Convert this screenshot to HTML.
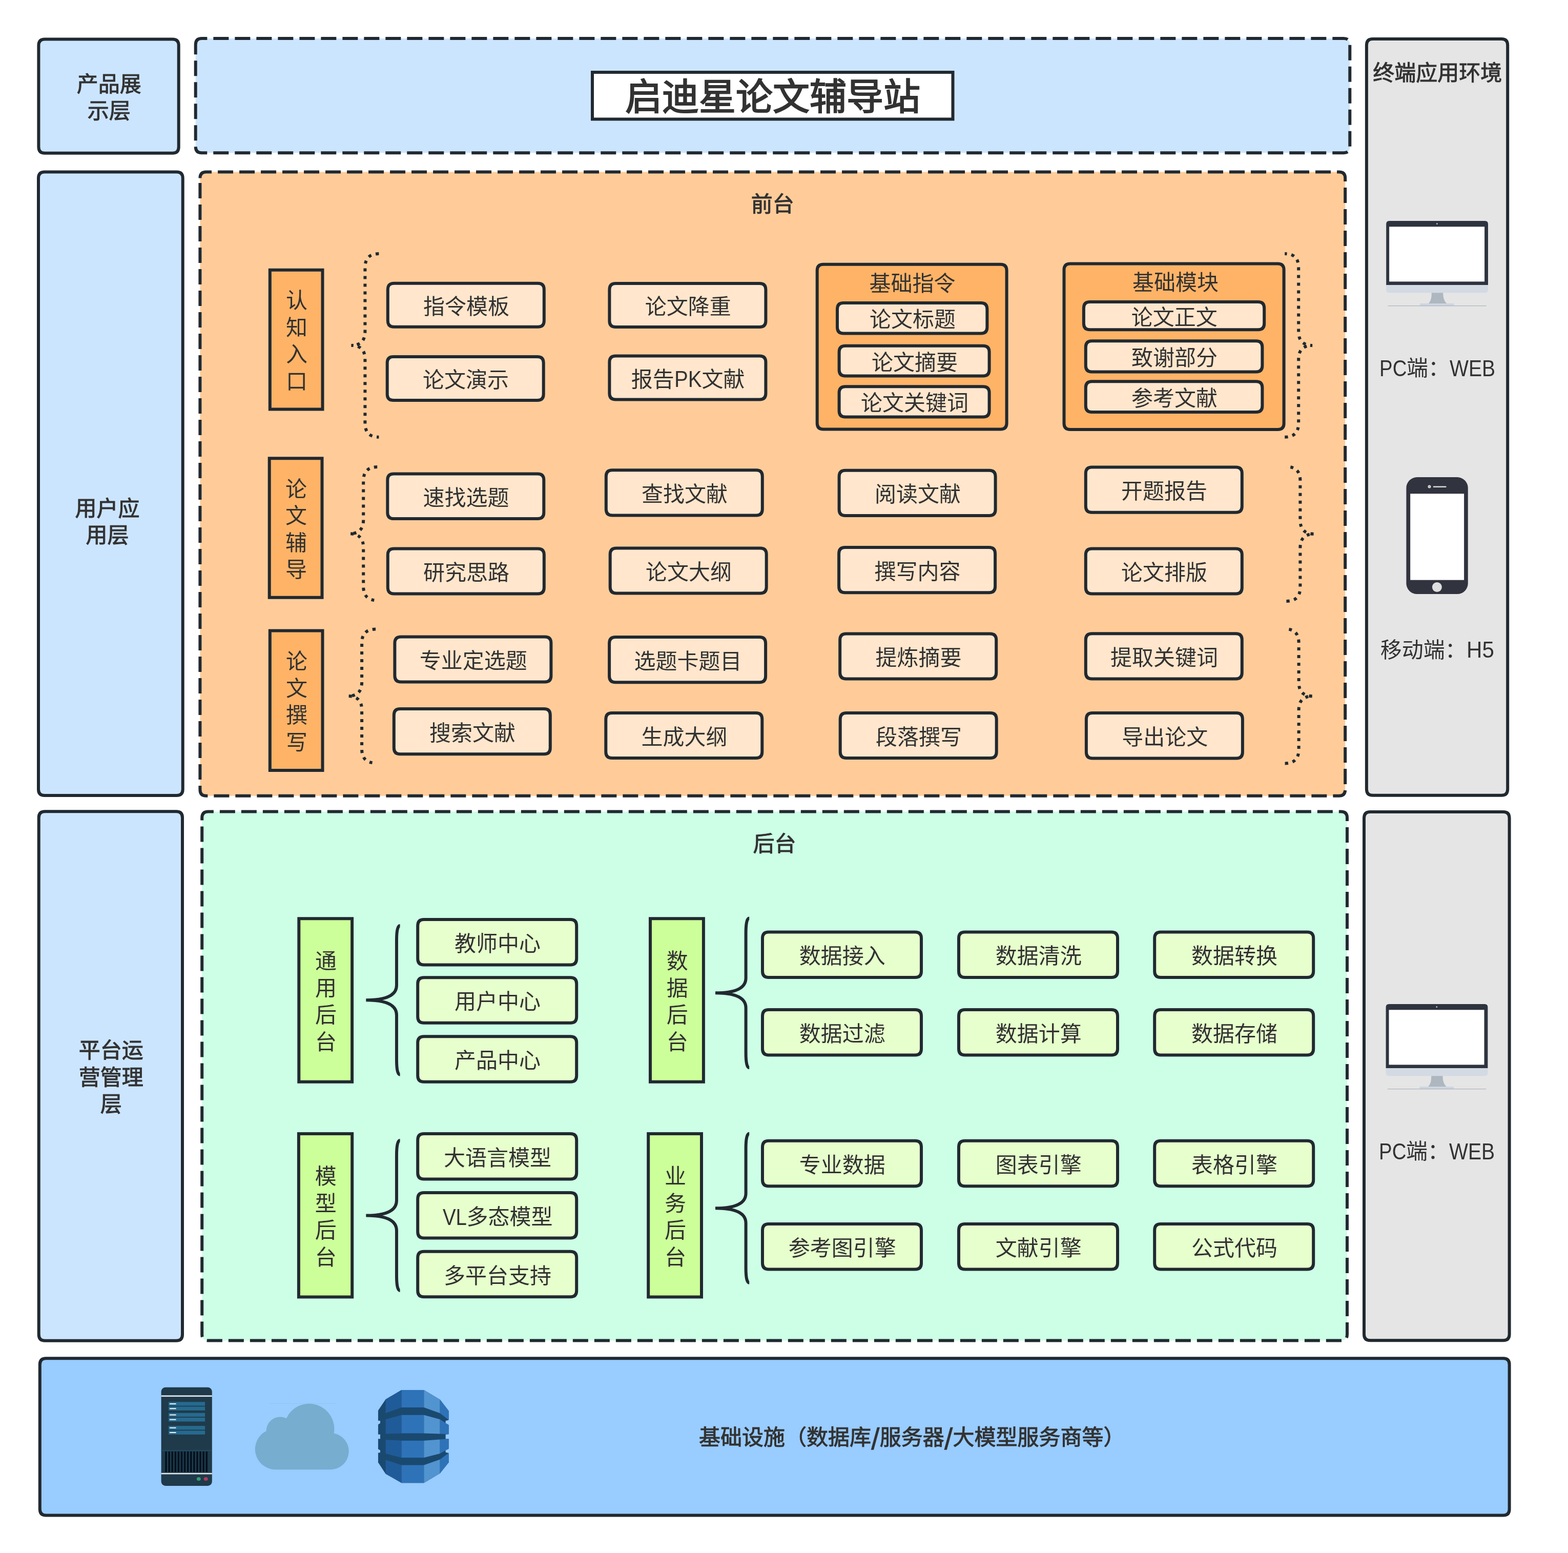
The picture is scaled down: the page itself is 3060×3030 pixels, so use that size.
<!DOCTYPE html>
<html lang="zh-CN">
<head>
<meta charset="utf-8">
<title>启迪星论文辅导站</title>
<style>
html,body{margin:0;padding:0;background:#fff}
body{width:3060px;height:3030px;position:relative;overflow:hidden}
svg{position:absolute;left:0;top:0}
.t{position:absolute;display:flex;align-items:center;justify-content:center;text-align:center;white-space:nowrap;
font-family:"Liberation Sans","Noto Sans CJK SC",sans-serif;font-size:42px;line-height:52.5px;color:#323232;font-weight:400}
#labels{position:absolute;left:0;top:0;width:3060px;height:3030px;will-change:transform}
.l{display:inline-block;transform-origin:0 50%;line-height:1}
.sl{font-size:60px;line-height:0;position:relative;top:3px;-webkit-text-stroke:0.5px #323232}
.b{-webkit-text-stroke:1px #323232}
.title{-webkit-text-stroke:2.1px #323232;font-size:72px;line-height:90px}
</style>
</head>
<body>
<svg xmlns="http://www.w3.org/2000/svg" width="3060" height="3030" viewBox="0 0 3060 3030">
<g stroke="#212930" stroke-width="6" fill="none">
<path d="M75.40,88.60Q75.40,76.60 87.40,76.60L336.70,76.60Q348.70,76.60 348.70,88.60L348.70,286.70Q348.70,298.70 336.70,298.70L87.40,298.70Q75.40,298.70 75.40,286.70Z" fill="#cce5ff"/>
<path d="M75.00,347.50Q75.00,335.50 87.00,335.50L344.70,335.50Q356.70,335.50 356.70,347.50L356.70,1540.10Q356.70,1552.10 344.70,1552.10L87.00,1552.10Q75.00,1552.10 75.00,1540.10Z" fill="#cce5ff"/>
<path d="M75.70,1595.20Q75.70,1583.20 87.70,1583.20L344.00,1583.20Q356.00,1583.20 356.00,1595.20L356.00,2603.70Q356.00,2615.70 344.00,2615.70L87.70,2615.70Q75.70,2615.70 75.70,2603.70Z" fill="#cce5ff"/>
<path d="M381.70,87.00Q381.70,75.00 393.70,75.00L2622.30,75.00Q2634.30,75.00 2634.30,87.00L2634.30,286.30Q2634.30,298.30 2622.30,298.30L393.70,298.30Q381.70,298.30 381.70,286.30Z" fill="#cce5ff" stroke-dasharray="30 12"/>
<path d="M390.40,347.40Q390.40,335.40 402.40,335.40L2613.20,335.40Q2625.20,335.40 2625.20,347.40L2625.20,1540.70Q2625.20,1552.70 2613.20,1552.70L402.40,1552.70Q390.40,1552.70 390.40,1540.70Z" fill="#ffcc99" stroke-dasharray="30 12"/>
<path d="M394.20,1595.50Q394.20,1583.50 406.20,1583.50L2617.00,1583.50Q2629.00,1583.50 2629.00,1595.50L2629.00,2603.50Q2629.00,2615.50 2617.00,2615.50L406.20,2615.50Q394.20,2615.50 394.20,2603.50Z" fill="#ccffe6" stroke-dasharray="30 12"/>
<path d="M2666.90,88.00Q2666.90,76.00 2678.90,76.00L2930.20,76.00Q2942.20,76.00 2942.20,88.00L2942.20,1539.70Q2942.20,1551.70 2930.20,1551.70L2678.90,1551.70Q2666.90,1551.70 2666.90,1539.70Z" fill="#e5e5e5"/>
<path d="M2662.00,1596.00Q2662.00,1584.00 2674.00,1584.00L2933.60,1584.00Q2945.60,1584.00 2945.60,1596.00L2945.60,2603.30Q2945.60,2615.30 2933.60,2615.30L2674.00,2615.30Q2662.00,2615.30 2662.00,2603.30Z" fill="#e5e5e5"/>
<path d="M77.80,2662.20Q77.80,2650.20 89.80,2650.20L2933.60,2650.20Q2945.60,2650.20 2945.60,2662.20L2945.60,2944.40Q2945.60,2956.40 2933.60,2956.40L89.80,2956.40Q77.80,2956.40 77.80,2944.40Z" fill="#99ccff"/>
<path d="M1156.00,141.00H1859.50V232.60H1156.00Z" fill="#ffffff"/>
<path d="M526.80,526.80H629.50V798.40H526.80Z" fill="#ffb366"/>
<path d="M525.70,894.30H628.50V1165.80H525.70Z" fill="#ffb366"/>
<path d="M526.80,1230.40H629.50V1503.00H526.80Z" fill="#ffb366"/>
<path d="M739.40,495.00Q712.40,495.00 712.40,522.00L712.40,646.90Q712.40,673.90 685.40,673.90Q712.40,673.90 712.40,700.90L712.40,825.80Q712.40,852.80 739.40,852.80" fill="none" stroke-dasharray="6 9" stroke-linejoin="bevel"/>
<path d="M736.20,911.10Q709.20,911.10 709.20,938.10L709.20,1014.30Q709.20,1041.30 682.20,1041.30Q709.20,1041.30 709.20,1068.30L709.20,1144.50Q709.20,1171.50 736.20,1171.50" fill="none" stroke-dasharray="6 9" stroke-linejoin="bevel"/>
<path d="M733.10,1227.60Q706.10,1227.60 706.10,1254.60L706.10,1331.10Q706.10,1358.10 679.10,1358.10Q706.10,1358.10 706.10,1385.10L706.10,1461.60Q706.10,1488.60 733.10,1488.60" fill="none" stroke-dasharray="6 9" stroke-linejoin="bevel"/>
<path d="M2507.20,852.80Q2534.20,852.80 2534.20,825.80L2534.20,700.90Q2534.20,673.90 2561.20,673.90Q2534.20,673.90 2534.20,646.90L2534.20,522.00Q2534.20,495.00 2507.20,495.00" fill="none" stroke-dasharray="6 9" stroke-linejoin="bevel"/>
<path d="M2510.40,1173.00Q2537.40,1173.00 2537.40,1146.00L2537.40,1068.80Q2537.40,1041.80 2564.40,1041.80Q2537.40,1041.80 2537.40,1014.80L2537.40,937.60Q2537.40,910.60 2510.40,910.60" fill="none" stroke-dasharray="6 9" stroke-linejoin="bevel"/>
<path d="M2507.60,1489.40Q2534.60,1489.40 2534.60,1462.40L2534.60,1385.25Q2534.60,1358.25 2561.60,1358.25Q2534.60,1358.25 2534.60,1331.25L2534.60,1254.10Q2534.60,1227.10 2507.60,1227.10" fill="none" stroke-dasharray="6 9" stroke-linejoin="bevel"/>
<path d="M756.80,564.70Q756.80,552.70 768.80,552.70L1049.80,552.70Q1061.80,552.70 1061.80,564.70L1061.80,625.70Q1061.80,637.70 1049.80,637.70L768.80,637.70Q756.80,637.70 756.80,625.70Z" fill="#ffe6cc"/>
<path d="M1189.40,564.90Q1189.40,552.90 1201.40,552.90L1482.40,552.90Q1494.40,552.90 1494.40,564.90L1494.40,625.90Q1494.40,637.90 1482.40,637.90L1201.40,637.90Q1189.40,637.90 1189.40,625.90Z" fill="#ffe6cc"/>
<path d="M755.70,707.90Q755.70,695.90 767.70,695.90L1048.70,695.90Q1060.70,695.90 1060.70,707.90L1060.70,768.90Q1060.70,780.90 1048.70,780.90L767.70,780.90Q755.70,780.90 755.70,768.90Z" fill="#ffe6cc"/>
<path d="M1189.40,706.60Q1189.40,694.60 1201.40,694.60L1482.40,694.60Q1494.40,694.60 1494.40,706.60L1494.40,767.60Q1494.40,779.60 1482.40,779.60L1201.40,779.60Q1189.40,779.60 1189.40,767.60Z" fill="#ffe6cc"/>
<path d="M1594.70,527.80Q1594.70,515.80 1606.70,515.80L1952.60,515.80Q1964.60,515.80 1964.60,527.80L1964.60,825.60Q1964.60,837.60 1952.60,837.60L1606.70,837.60Q1594.70,837.60 1594.70,825.60Z" fill="#ffb366"/>
<path d="M1634.00,603.00Q1634.00,591.00 1646.00,591.00L1914.40,591.00Q1926.40,591.00 1926.40,603.00L1926.40,638.40Q1926.40,650.40 1914.40,650.40L1646.00,650.40Q1634.00,650.40 1634.00,638.40Z" fill="#ffe6cc"/>
<path d="M1637.60,686.70Q1637.60,674.70 1649.60,674.70L1918.60,674.70Q1930.60,674.70 1930.60,686.70L1930.60,721.50Q1930.60,733.50 1918.60,733.50L1649.60,733.50Q1637.60,733.50 1637.60,721.50Z" fill="#ffe6cc"/>
<path d="M1637.60,766.20Q1637.60,754.20 1649.60,754.20L1918.60,754.20Q1930.60,754.20 1930.60,766.20L1930.60,801.50Q1930.60,813.50 1918.60,813.50L1649.60,813.50Q1637.60,813.50 1637.60,801.50Z" fill="#ffe6cc"/>
<path d="M2076.50,526.40Q2076.50,514.40 2088.50,514.40L2493.60,514.40Q2505.60,514.40 2505.60,526.40L2505.60,826.10Q2505.60,838.10 2493.60,838.10L2088.50,838.10Q2076.50,838.10 2076.50,826.10Z" fill="#ffb366"/>
<path d="M2114.90,601.00Q2114.90,589.00 2126.90,589.00L2455.20,589.00Q2467.20,589.00 2467.20,601.00L2467.20,631.30Q2467.20,643.30 2455.20,643.30L2126.90,643.30Q2114.90,643.30 2114.90,631.30Z" fill="#ffe6cc"/>
<path d="M2118.80,677.20Q2118.80,665.20 2130.80,665.20L2451.40,665.20Q2463.40,665.20 2463.40,677.20L2463.40,713.60Q2463.40,725.60 2451.40,725.60L2130.80,725.60Q2118.80,725.60 2118.80,713.60Z" fill="#ffe6cc"/>
<path d="M2118.80,756.20Q2118.80,744.20 2130.80,744.20L2451.40,744.20Q2463.40,744.20 2463.40,756.20L2463.40,792.10Q2463.40,804.10 2451.40,804.10L2130.80,804.10Q2118.80,804.10 2118.80,792.10Z" fill="#ffe6cc"/>
<path d="M756.30,936.40Q756.30,924.40 768.30,924.40L1049.30,924.40Q1061.30,924.40 1061.30,936.40L1061.30,1000.10Q1061.30,1012.10 1049.30,1012.10L768.30,1012.10Q756.30,1012.10 756.30,1000.10Z" fill="#ffe6cc"/>
<path d="M1182.80,929.30Q1182.80,917.30 1194.80,917.30L1475.80,917.30Q1487.80,917.30 1487.80,929.30L1487.80,993.50Q1487.80,1005.50 1475.80,1005.50L1194.80,1005.50Q1182.80,1005.50 1182.80,993.50Z" fill="#ffe6cc"/>
<path d="M1637.60,929.80Q1637.60,917.80 1649.60,917.80L1930.60,917.80Q1942.60,917.80 1942.60,929.80L1942.60,994.00Q1942.60,1006.00 1930.60,1006.00L1649.60,1006.00Q1637.60,1006.00 1637.60,994.00Z" fill="#ffe6cc"/>
<path d="M2118.80,923.60Q2118.80,911.60 2130.80,911.60L2411.80,911.60Q2423.80,911.60 2423.80,923.60L2423.80,987.80Q2423.80,999.80 2411.80,999.80L2130.80,999.80Q2118.80,999.80 2118.80,987.80Z" fill="#ffe6cc"/>
<path d="M756.80,1082.40Q756.80,1070.40 768.80,1070.40L1049.80,1070.40Q1061.80,1070.40 1061.80,1082.40L1061.80,1146.60Q1061.80,1158.60 1049.80,1158.60L768.80,1158.60Q756.80,1158.60 756.80,1146.60Z" fill="#ffe6cc"/>
<path d="M1190.70,1081.40Q1190.70,1069.40 1202.70,1069.40L1483.70,1069.40Q1495.70,1069.40 1495.70,1081.40L1495.70,1145.60Q1495.70,1157.60 1483.70,1157.60L1202.70,1157.60Q1190.70,1157.60 1190.70,1145.60Z" fill="#ffe6cc"/>
<path d="M1637.10,1080.00Q1637.10,1068.00 1649.10,1068.00L1930.10,1068.00Q1942.10,1068.00 1942.10,1080.00L1942.10,1144.20Q1942.10,1156.20 1930.10,1156.20L1649.10,1156.20Q1637.10,1156.20 1637.10,1144.20Z" fill="#ffe6cc"/>
<path d="M2118.80,1082.40Q2118.80,1070.40 2130.80,1070.40L2411.80,1070.40Q2423.80,1070.40 2423.80,1082.40L2423.80,1146.60Q2423.80,1158.60 2411.80,1158.60L2130.80,1158.60Q2118.80,1158.60 2118.80,1146.60Z" fill="#ffe6cc"/>
<path d="M770.40,1254.40Q770.40,1242.40 782.40,1242.40L1063.40,1242.40Q1075.40,1242.40 1075.40,1254.40L1075.40,1318.60Q1075.40,1330.60 1063.40,1330.60L782.40,1330.60Q770.40,1330.60 770.40,1318.60Z" fill="#ffe6cc"/>
<path d="M1189.10,1255.00Q1189.10,1243.00 1201.10,1243.00L1482.10,1243.00Q1494.10,1243.00 1494.10,1255.00L1494.10,1319.20Q1494.10,1331.20 1482.10,1331.20L1201.10,1331.20Q1189.10,1331.20 1189.10,1319.20Z" fill="#ffe6cc"/>
<path d="M1639.20,1248.40Q1639.20,1236.40 1651.20,1236.40L1932.20,1236.40Q1944.20,1236.40 1944.20,1248.40L1944.20,1312.60Q1944.20,1324.60 1932.20,1324.60L1651.20,1324.60Q1639.20,1324.60 1639.20,1312.60Z" fill="#ffe6cc"/>
<path d="M2118.80,1248.20Q2118.80,1236.20 2130.80,1236.20L2411.80,1236.20Q2423.80,1236.20 2423.80,1248.20L2423.80,1312.40Q2423.80,1324.40 2411.80,1324.40L2130.80,1324.40Q2118.80,1324.40 2118.80,1312.40Z" fill="#ffe6cc"/>
<path d="M768.80,1395.00Q768.80,1383.00 780.80,1383.00L1061.80,1383.00Q1073.80,1383.00 1073.80,1395.00L1073.80,1459.20Q1073.80,1471.20 1061.80,1471.20L780.80,1471.20Q768.80,1471.20 768.80,1459.20Z" fill="#ffe6cc"/>
<path d="M1182.30,1402.90Q1182.30,1390.90 1194.30,1390.90L1475.30,1390.90Q1487.30,1390.90 1487.30,1402.90L1487.30,1467.10Q1487.30,1479.10 1475.30,1479.10L1194.30,1479.10Q1182.30,1479.10 1182.30,1467.10Z" fill="#ffe6cc"/>
<path d="M1639.70,1402.90Q1639.70,1390.90 1651.70,1390.90L1932.70,1390.90Q1944.70,1390.90 1944.70,1402.90L1944.70,1467.10Q1944.70,1479.10 1932.70,1479.10L1651.70,1479.10Q1639.70,1479.10 1639.70,1467.10Z" fill="#ffe6cc"/>
<path d="M2119.90,1402.90Q2119.90,1390.90 2131.90,1390.90L2412.90,1390.90Q2424.90,1390.90 2424.90,1402.90L2424.90,1467.50Q2424.90,1479.50 2412.90,1479.50L2131.90,1479.50Q2119.90,1479.50 2119.90,1467.50Z" fill="#ffe6cc"/>
<path d="M583.30,1792.30H687.10V2110.80H583.30Z" fill="#ccff99"/>
<path d="M1269.00,1792.30H1372.90V2110.80H1269.00Z" fill="#ccff99"/>
<path d="M582.90,2211.90H687.20V2530.60H582.90Z" fill="#ccff99"/>
<path d="M1265.20,2211.90H1369.00V2530.60H1265.20Z" fill="#ccff99"/>
<path d="M780.60,1805.90Q773.97,1805.90 773.97,1834.98L773.97,1922.22Q773.97,1951.30 714.30,1951.30Q773.97,1951.30 773.97,1980.38L773.97,2067.62Q773.97,2096.70 780.60,2096.70" fill="none" stroke-linejoin="bevel"/>
<path d="M1462.20,1791.50Q1455.58,1791.50 1455.58,1820.67L1455.58,1908.18Q1455.58,1937.35 1396.00,1937.35Q1455.58,1937.35 1455.58,1966.52L1455.58,2054.03Q1455.58,2083.20 1462.20,2083.20" fill="none" stroke-linejoin="bevel"/>
<path d="M780.60,2225.00Q773.97,2225.00 773.97,2254.30L773.97,2342.20Q773.97,2371.50 714.30,2371.50Q773.97,2371.50 773.97,2400.80L773.97,2488.70Q773.97,2518.00 780.60,2518.00" fill="none" stroke-linejoin="bevel"/>
<path d="M1462.20,2211.80Q1455.58,2211.80 1455.58,2240.90L1455.58,2328.20Q1455.58,2357.30 1396.00,2357.30Q1455.58,2357.30 1455.58,2386.40L1455.58,2473.70Q1455.58,2502.80 1462.20,2502.80" fill="none" stroke-linejoin="bevel"/>
<path d="M815.20,1805.90Q815.20,1793.90 827.20,1793.90L1113.20,1793.90Q1125.20,1793.90 1125.20,1805.90L1125.20,1870.40Q1125.20,1882.40 1113.20,1882.40L827.20,1882.40Q815.20,1882.40 815.20,1870.40Z" fill="#e6ffcc"/>
<path d="M815.20,1919.30Q815.20,1907.30 827.20,1907.30L1113.20,1907.30Q1125.20,1907.30 1125.20,1919.30L1125.20,1983.80Q1125.20,1995.80 1113.20,1995.80L827.20,1995.80Q815.20,1995.80 815.20,1983.80Z" fill="#e6ffcc"/>
<path d="M815.20,2034.30Q815.20,2022.30 827.20,2022.30L1113.20,2022.30Q1125.20,2022.30 1125.20,2034.30L1125.20,2098.80Q1125.20,2110.80 1113.20,2110.80L827.20,2110.80Q815.20,2110.80 815.20,2098.80Z" fill="#e6ffcc"/>
<path d="M815.20,2224.10Q815.20,2212.10 827.20,2212.10L1113.20,2212.10Q1125.20,2212.10 1125.20,2224.10L1125.20,2288.60Q1125.20,2300.60 1113.20,2300.60L827.20,2300.60Q815.20,2300.60 815.20,2288.60Z" fill="#e6ffcc"/>
<path d="M815.20,2339.00Q815.20,2327.00 827.20,2327.00L1113.20,2327.00Q1125.20,2327.00 1125.20,2339.00L1125.20,2403.50Q1125.20,2415.50 1113.20,2415.50L827.20,2415.50Q815.20,2415.50 815.20,2403.50Z" fill="#e6ffcc"/>
<path d="M815.20,2453.80Q815.20,2441.80 827.20,2441.80L1113.20,2441.80Q1125.20,2441.80 1125.20,2453.80L1125.20,2518.30Q1125.20,2530.30 1113.20,2530.30L827.20,2530.30Q815.20,2530.30 815.20,2518.30Z" fill="#e6ffcc"/>
<path d="M1488.00,1830.50Q1488.00,1818.50 1500.00,1818.50L1786.00,1818.50Q1798.00,1818.50 1798.00,1830.50L1798.00,1895.00Q1798.00,1907.00 1786.00,1907.00L1500.00,1907.00Q1488.00,1907.00 1488.00,1895.00Z" fill="#e6ffcc"/>
<path d="M1871.00,1830.50Q1871.00,1818.50 1883.00,1818.50L2169.00,1818.50Q2181.00,1818.50 2181.00,1830.50L2181.00,1895.00Q2181.00,1907.00 2169.00,1907.00L1883.00,1907.00Q1871.00,1907.00 1871.00,1895.00Z" fill="#e6ffcc"/>
<path d="M2253.20,1830.50Q2253.20,1818.50 2265.20,1818.50L2551.20,1818.50Q2563.20,1818.50 2563.20,1830.50L2563.20,1895.00Q2563.20,1907.00 2551.20,1907.00L2265.20,1907.00Q2253.20,1907.00 2253.20,1895.00Z" fill="#e6ffcc"/>
<path d="M1488.00,1982.00Q1488.00,1970.00 1500.00,1970.00L1786.00,1970.00Q1798.00,1970.00 1798.00,1982.00L1798.00,2046.50Q1798.00,2058.50 1786.00,2058.50L1500.00,2058.50Q1488.00,2058.50 1488.00,2046.50Z" fill="#e6ffcc"/>
<path d="M1871.00,1982.00Q1871.00,1970.00 1883.00,1970.00L2169.00,1970.00Q2181.00,1970.00 2181.00,1982.00L2181.00,2046.50Q2181.00,2058.50 2169.00,2058.50L1883.00,2058.50Q1871.00,2058.50 1871.00,2046.50Z" fill="#e6ffcc"/>
<path d="M2253.20,1982.00Q2253.20,1970.00 2265.20,1970.00L2551.20,1970.00Q2563.20,1970.00 2563.20,1982.00L2563.20,2046.50Q2563.20,2058.50 2551.20,2058.50L2265.20,2058.50Q2253.20,2058.50 2253.20,2046.50Z" fill="#e6ffcc"/>
<path d="M1488.00,2237.80Q1488.00,2225.80 1500.00,2225.80L1786.00,2225.80Q1798.00,2225.80 1798.00,2237.80L1798.00,2302.30Q1798.00,2314.30 1786.00,2314.30L1500.00,2314.30Q1488.00,2314.30 1488.00,2302.30Z" fill="#e6ffcc"/>
<path d="M1871.00,2237.80Q1871.00,2225.80 1883.00,2225.80L2169.00,2225.80Q2181.00,2225.80 2181.00,2237.80L2181.00,2302.30Q2181.00,2314.30 2169.00,2314.30L1883.00,2314.30Q1871.00,2314.30 1871.00,2302.30Z" fill="#e6ffcc"/>
<path d="M2253.20,2237.80Q2253.20,2225.80 2265.20,2225.80L2551.20,2225.80Q2563.20,2225.80 2563.20,2237.80L2563.20,2302.30Q2563.20,2314.30 2551.20,2314.30L2265.20,2314.30Q2253.20,2314.30 2253.20,2302.30Z" fill="#e6ffcc"/>
<path d="M1488.00,2400.00Q1488.00,2388.00 1500.00,2388.00L1786.00,2388.00Q1798.00,2388.00 1798.00,2400.00L1798.00,2464.50Q1798.00,2476.50 1786.00,2476.50L1500.00,2476.50Q1488.00,2476.50 1488.00,2464.50Z" fill="#e6ffcc"/>
<path d="M1871.00,2400.00Q1871.00,2388.00 1883.00,2388.00L2169.00,2388.00Q2181.00,2388.00 2181.00,2400.00L2181.00,2464.50Q2181.00,2476.50 2169.00,2476.50L1883.00,2476.50Q1871.00,2476.50 1871.00,2464.50Z" fill="#e6ffcc"/>
<path d="M2253.20,2400.00Q2253.20,2388.00 2265.20,2388.00L2551.20,2388.00Q2563.20,2388.00 2563.20,2400.00L2563.20,2464.50Q2563.20,2476.50 2551.20,2476.50L2265.20,2476.50Q2253.20,2476.50 2253.20,2464.50Z" fill="#e6ffcc"/>
</g>
<g transform="translate(2705.20,431.00)" stroke="none">
<path d="M0,125V6Q0,0 6,0H192.8Q198.8,0 198.8,6V125Z" fill="#2e343f"/>
<path d="M0,125H198.8V134.3Q198.8,140.3 192.8,140.3H6Q0,140.3 0,134.3Z" fill="#d3dae3"/>
<rect x="5.9" y="11.3" width="186" height="107.1" fill="#ffffff"/>
<circle cx="99.2" cy="5.6" r="1.4" fill="#c8ccd2"/>
<path d="M88.6,140.3H111C111,150 113,156 117.9,161H82.6C87.5,156 88.6,150 88.6,140.3Z" fill="#aeb7c0"/>
<rect x="65.8" y="161" width="66.7" height="4.4" rx="1" fill="#cdd6e1"/>
<rect x="3.4" y="165.3" width="192.1" height="0.9" fill="#8f98a3" opacity="0.85"/>
</g>
<g transform="translate(2744.40,931.05)" stroke="none">
<rect x="0" y="0" width="120.4" height="228" rx="21" ry="21" fill="#31333e"/>
<rect x="7.8" y="32.2" width="104.9" height="168.4" fill="#ffffff"/>
<circle cx="60" cy="214.4" r="9.5" fill="#dedede"/>
<circle cx="45.1" cy="18.5" r="3" fill="#dedede"/>
<circle cx="45.1" cy="18.5" r="1" fill="#6a7f9a"/>
<rect x="52.3" y="17.4" width="25.9" height="2.5" rx="1.25" fill="#d8d8d8"/>
</g>
<g transform="translate(2704.60,1959.00)" stroke="none">
<path d="M0,125V6Q0,0 6,0H192.8Q198.8,0 198.8,6V125Z" fill="#2e343f"/>
<path d="M0,125H198.8V134.3Q198.8,140.3 192.8,140.3H6Q0,140.3 0,134.3Z" fill="#d3dae3"/>
<rect x="5.9" y="11.3" width="186" height="107.1" fill="#ffffff"/>
<circle cx="99.2" cy="5.6" r="1.4" fill="#c8ccd2"/>
<path d="M88.6,140.3H111C111,150 113,156 117.9,161H82.6C87.5,156 88.6,150 88.6,140.3Z" fill="#aeb7c0"/>
<rect x="65.8" y="161" width="66.7" height="4.4" rx="1" fill="#cdd6e1"/>
<rect x="3.4" y="165.3" width="192.1" height="0.9" fill="#8f98a3" opacity="0.85"/>
</g>
<g stroke="none">
<rect x="314.6" y="2706.8" width="99.2" height="192.2" rx="8.5" fill="#1f3a4a"/>
<rect x="314.6" y="2722.4" width="99.2" height="2.7" fill="#e4e8ec"/>
<rect x="314.6" y="2873.8" width="99.2" height="2.6" fill="#e4e8ec"/>
<rect x="328.9" y="2735.2" width="71.2" height="7.5" fill="#266a8f"/>
<rect x="330.8" y="2737.95" width="13" height="2" rx="1" fill="#f4f6f8"/>
<rect x="328.9" y="2744.4" width="71.2" height="7.5" fill="#266a8f"/>
<rect x="330.8" y="2747.15" width="13" height="2" rx="1" fill="#f4f6f8"/>
<rect x="328.9" y="2756.7" width="71.2" height="7.5" fill="#266a8f"/>
<rect x="330.8" y="2759.45" width="13" height="2" rx="1" fill="#f4f6f8"/>
<rect x="328.9" y="2766.0" width="71.2" height="7.5" fill="#266a8f"/>
<rect x="330.8" y="2768.75" width="13" height="2" rx="1" fill="#f4f6f8"/>
<rect x="328.9" y="2782.0" width="71.2" height="7.5" fill="#266a8f"/>
<rect x="330.8" y="2784.75" width="13" height="2" rx="1" fill="#f4f6f8"/>
<rect x="328.9" y="2791.3" width="71.2" height="7.5" fill="#266a8f"/>
<rect x="330.8" y="2794.05" width="13" height="2" rx="1" fill="#f4f6f8"/>
<rect x="314.6" y="2829.2" width="99.2" height="1.4" fill="#1d5068"/>
<rect x="321.4" y="2832" width="84.1" height="40.2" fill="#23404f"/>
<rect x="322.20" y="2832" width="3.7" height="40.2" fill="#03111f"/>
<rect x="328.29" y="2832" width="3.7" height="40.2" fill="#03111f"/>
<rect x="334.38" y="2832" width="3.7" height="40.2" fill="#03111f"/>
<rect x="340.47" y="2832" width="3.7" height="40.2" fill="#03111f"/>
<rect x="346.56" y="2832" width="3.7" height="40.2" fill="#03111f"/>
<rect x="352.65" y="2832" width="3.7" height="40.2" fill="#03111f"/>
<rect x="358.74" y="2832" width="3.7" height="40.2" fill="#03111f"/>
<rect x="364.83" y="2832" width="3.7" height="40.2" fill="#03111f"/>
<rect x="370.92" y="2832" width="3.7" height="40.2" fill="#03111f"/>
<rect x="377.01" y="2832" width="3.7" height="40.2" fill="#03111f"/>
<rect x="383.10" y="2832" width="3.7" height="40.2" fill="#03111f"/>
<rect x="389.19" y="2832" width="3.7" height="40.2" fill="#03111f"/>
<rect x="395.28" y="2832" width="3.7" height="40.2" fill="#03111f"/>
<rect x="401.37" y="2832" width="3.7" height="40.2" fill="#03111f"/>
<ellipse cx="387.8" cy="2885.4" rx="4" ry="3.5" fill="#3a9b6f"/>
<ellipse cx="401.7" cy="2885.4" rx="4" ry="3.5" fill="#b03a5b"/>
</g>
<g transform="translate(470,2680) scale(0.165631)" stroke="none">
<path d="M408,1130A240,240 0 0 1 300,675.67A165,165 0 0 1 536.16,526.13A296,296 0 0 1 1096.11,703.59A215,215 0 0 1 1057,1130Z" fill="#77adce"/>
<rect x="340" y="350" width="780" height="5" fill="#77adce" opacity="0.22"/>
</g>
<g transform="translate(700,2690) scale(0.115002)" stroke="none">
<polygon points="727,192 1107,192 1380,355 1527,545 1527,1420 1380,1605 1107,1768 727,1768 457,1612 330,1420 330,540 457,350" fill="#1a4970"/>
<polygon points="457,350 727,192 727,487 457,585" fill="#205b99"/>
<polygon points="727,192 1107,192 1107,487 727,487" fill="#2e73b8"/>
<polygon points="1107,192 1380,355 1380,585 1107,487" fill="#5294cf"/>
<polygon points="1380,355 1527,545 1527,700 1380,585" fill="#2e73b8"/>
<polygon points="457,690 727,615 727,925 457,935" fill="#205b99"/>
<polygon points="727,615 1107,615 1107,925 727,925" fill="#2e73b8"/>
<polygon points="1107,615 1380,690 1380,935 1107,925" fill="#5294cf"/>
<polygon points="1380,690 1527,785 1527,942 1380,935" fill="#2e73b8"/>
<polygon points="457,1035 727,1050 727,1340 457,1270" fill="#205b99"/>
<polygon points="727,1050 1107,1050 1107,1340 727,1340" fill="#2e73b8"/>
<polygon points="1107,1050 1380,1030 1380,1270 1107,1340" fill="#5294cf"/>
<polygon points="1380,1030 1527,1018 1527,1185 1380,1270" fill="#2e73b8"/>
<polygon points="457,1375 727,1465 727,1768 457,1612" fill="#205b99"/>
<polygon points="727,1465 1107,1465 1107,1768 727,1768" fill="#2e73b8"/>
<polygon points="1107,1465 1380,1370 1380,1605 1107,1768" fill="#5294cf"/>
<polygon points="1380,1370 1527,1258 1527,1420 1380,1605" fill="#2e73b8"/>
<polygon points="1475,712 1535,700 1535,787 1475,752" fill="#99ccff"/>
<polygon points="1475,945 1535,942 1535,1018 1475,1020" fill="#99ccff"/>
<polygon points="1475,1215 1535,1185 1535,1260 1475,1250" fill="#99ccff"/>
<polygon points="322,710 365,712 365,755 322,782" fill="#99ccff"/>
<polygon points="322,945 365,945 365,1020 322,1020" fill="#99ccff"/>
<polygon points="322,1190 365,1212 365,1252 322,1258" fill="#99ccff"/>
</g>
</svg>
<div id="labels">
<div class="t b" style="left:-87.15px;top:138.91px;width:600px;height:105.00px">产品展<br>示层</div>
<div class="t b" style="left:-90.55px;top:966.56px;width:600px;height:105.00px">用户应<br>用层</div>
<div class="t b" style="left:-83.35px;top:2024.46px;width:600px;height:157.50px">平台运<br>营管理<br>层</div>
<div class="t title" style="left:1058.10px;top:143.64px;width:900px;height:90.00px">启迪星论文辅导站</div>
<div class="t b" style="left:1207.80px;top:372.51px;width:600px;height:52.50px">前台</div>
<div class="t b" style="left:1211.50px;top:1621.31px;width:600px;height:52.50px">后台</div>
<div class="t b" style="left:2505.30px;top:117.01px;width:600px;height:52.50px">终端应用环境</div>
<div class="t" style="left:2504.80px;top:693.01px;width:600px;height:52.50px"><span class="l" style="font-size:44.73px;transform:scaleX(0.8592);margin-right:-8.75px">PC</span>端：<span class="l" style="font-size:44.73px;transform:scaleX(0.8755);margin-right:-12.69px">WEB</span></div>
<div class="t" style="left:2504.80px;top:1242.51px;width:600px;height:52.50px">移动端：<span class="l" style="font-size:44.73px;transform:scaleX(0.9426);margin-right:-3.28px">H5</span></div>
<div class="t" style="left:2503.90px;top:2220.71px;width:600px;height:52.50px"><span class="l" style="font-size:44.73px;transform:scaleX(0.8592);margin-right:-8.75px">PC</span>端：<span class="l" style="font-size:44.73px;transform:scaleX(0.8755);margin-right:-12.69px">WEB</span></div>
<div class="t b" style="left:1179.80px;top:2779.01px;width:1200px;height:52.50px">基础设施（数据库<span class="sl">/</span>服务器<span class="sl">/</span>大模型服务商等）</div>
<div class="t" style="left:278.95px;top:561.36px;width:600px;height:210.00px">认<br>知<br>入<br>口</div>
<div class="t" style="left:277.90px;top:928.81px;width:600px;height:210.00px">论<br>文<br>辅<br>导</div>
<div class="t" style="left:278.95px;top:1265.46px;width:600px;height:210.00px">论<br>文<br>撰<br>写</div>
<div class="t" style="left:610.10px;top:572.71px;width:600px;height:52.50px">指令模板</div>
<div class="t" style="left:1042.70px;top:572.91px;width:600px;height:52.50px">论文降重</div>
<div class="t" style="left:609.00px;top:715.91px;width:600px;height:52.50px">论文演示</div>
<div class="t" style="left:1042.70px;top:714.61px;width:600px;height:52.50px">报告<span class="l" style="font-size:44.73px;transform:scaleX(0.9003);margin-right:-5.95px">PK</span>文献</div>
<div class="t" style="left:1480.40px;top:527.51px;width:600px;height:52.50px">基础指令</div>
<div class="t" style="left:1481.00px;top:598.21px;width:600px;height:52.50px">论文标题</div>
<div class="t" style="left:1484.90px;top:681.61px;width:600px;height:52.50px">论文摘要</div>
<div class="t" style="left:1484.90px;top:761.36px;width:600px;height:52.50px">论文关键词</div>
<div class="t" style="left:1994.10px;top:525.51px;width:600px;height:52.50px">基础模块</div>
<div class="t" style="left:1991.85px;top:593.66px;width:600px;height:52.50px">论文正文</div>
<div class="t" style="left:1991.90px;top:672.91px;width:600px;height:52.50px">致谢部分</div>
<div class="t" style="left:1991.90px;top:751.66px;width:600px;height:52.50px">参考文献</div>
<div class="t" style="left:609.60px;top:945.76px;width:600px;height:52.50px">速找选题</div>
<div class="t" style="left:1036.10px;top:938.91px;width:600px;height:52.50px">查找文献</div>
<div class="t" style="left:1490.90px;top:939.41px;width:600px;height:52.50px">阅读文献</div>
<div class="t" style="left:1972.10px;top:933.21px;width:600px;height:52.50px">开题报告</div>
<div class="t" style="left:610.10px;top:1092.01px;width:600px;height:52.50px">研究思路</div>
<div class="t" style="left:1044.00px;top:1091.01px;width:600px;height:52.50px">论文大纲</div>
<div class="t" style="left:1490.40px;top:1089.61px;width:600px;height:52.50px">撰写内容</div>
<div class="t" style="left:1972.10px;top:1092.01px;width:600px;height:52.50px">论文排版</div>
<div class="t" style="left:623.70px;top:1264.01px;width:600px;height:52.50px">专业定选题</div>
<div class="t" style="left:1042.40px;top:1264.61px;width:600px;height:52.50px">选题卡题目</div>
<div class="t" style="left:1492.50px;top:1258.01px;width:600px;height:52.50px">提炼摘要</div>
<div class="t" style="left:1972.10px;top:1257.81px;width:600px;height:52.50px">提取关键词</div>
<div class="t" style="left:622.10px;top:1404.61px;width:600px;height:52.50px">搜索文献</div>
<div class="t" style="left:1035.60px;top:1412.51px;width:600px;height:52.50px">生成大纲</div>
<div class="t" style="left:1493.00px;top:1412.51px;width:600px;height:52.50px">段落撰写</div>
<div class="t" style="left:1973.20px;top:1412.71px;width:600px;height:52.50px">导出论文</div>
<div class="t" style="left:336.00px;top:1850.31px;width:600px;height:210.00px">通<br>用<br>后<br>台</div>
<div class="t" style="left:1021.75px;top:1850.31px;width:600px;height:210.00px">数<br>据<br>后<br>台</div>
<div class="t" style="left:335.85px;top:2270.01px;width:600px;height:210.00px">模<br>型<br>后<br>台</div>
<div class="t" style="left:1017.90px;top:2270.01px;width:600px;height:210.00px">业<br>务<br>后<br>台</div>
<div class="t" style="left:671.00px;top:1815.66px;width:600px;height:52.50px">教师中心</div>
<div class="t" style="left:671.00px;top:1929.06px;width:600px;height:52.50px">用户中心</div>
<div class="t" style="left:671.00px;top:2044.06px;width:600px;height:52.50px">产品中心</div>
<div class="t" style="left:671.00px;top:2233.86px;width:600px;height:52.50px">大语言模型</div>
<div class="t" style="left:671.00px;top:2348.76px;width:600px;height:52.50px"><span class="l" style="font-size:44.73px;transform:scaleX(0.8584);margin-right:-7.75px">VL</span>多态模型</div>
<div class="t" style="left:671.00px;top:2463.56px;width:600px;height:52.50px">多平台支持</div>
<div class="t" style="left:1343.80px;top:1840.26px;width:600px;height:52.50px">数据接入</div>
<div class="t" style="left:1726.80px;top:1840.26px;width:600px;height:52.50px">数据清洗</div>
<div class="t" style="left:2109.00px;top:1840.26px;width:600px;height:52.50px">数据转换</div>
<div class="t" style="left:1343.80px;top:1991.76px;width:600px;height:52.50px">数据过滤</div>
<div class="t" style="left:1726.80px;top:1991.76px;width:600px;height:52.50px">数据计算</div>
<div class="t" style="left:2109.00px;top:1991.76px;width:600px;height:52.50px">数据存储</div>
<div class="t" style="left:1343.80px;top:2247.56px;width:600px;height:52.50px">专业数据</div>
<div class="t" style="left:1726.80px;top:2247.56px;width:600px;height:52.50px">图表引擎</div>
<div class="t" style="left:2109.00px;top:2247.56px;width:600px;height:52.50px">表格引擎</div>
<div class="t" style="left:1343.80px;top:2409.76px;width:600px;height:52.50px">参考图引擎</div>
<div class="t" style="left:1726.80px;top:2409.76px;width:600px;height:52.50px">文献引擎</div>
<div class="t" style="left:2109.00px;top:2409.76px;width:600px;height:52.50px">公式代码</div>
</div>
</body>
</html>
